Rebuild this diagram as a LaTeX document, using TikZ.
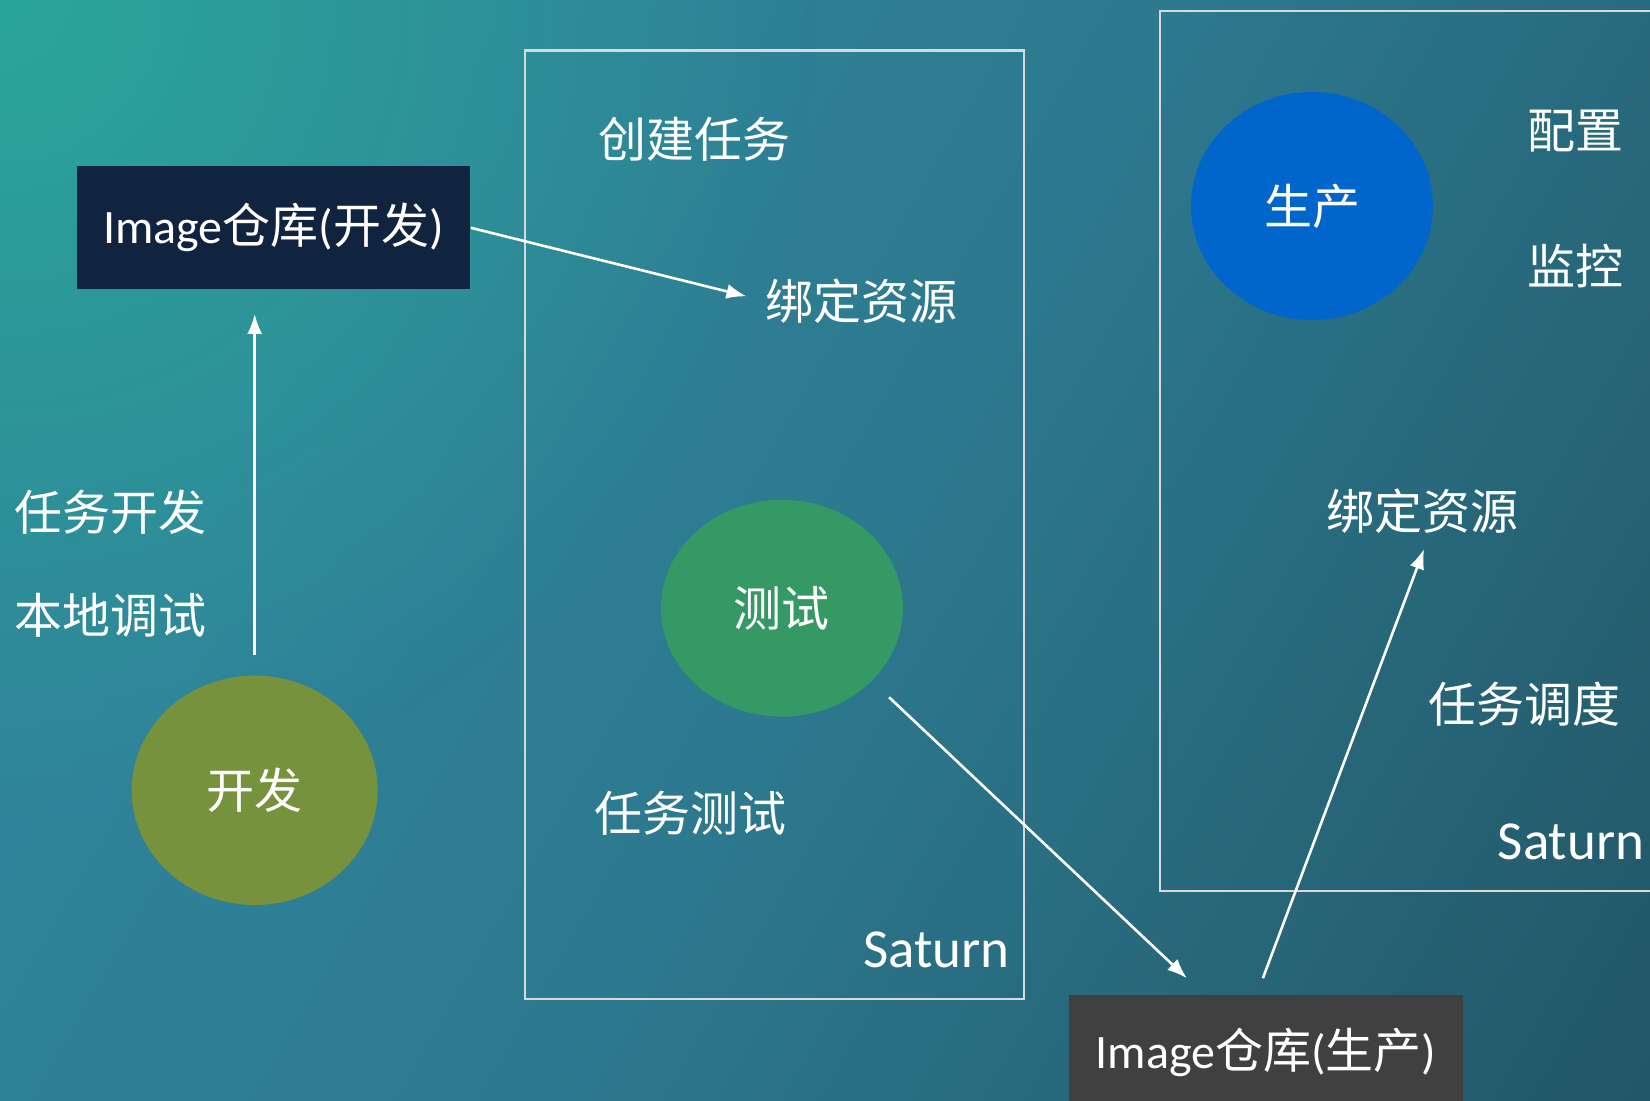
\documentclass[tikz,border=0pt]{standalone}
\usepackage{fontspec}
\setmainfont{Carlito}
\newfontfamily\cjk{Noto Sans CJK SC}
\usetikzlibrary{arrows.meta, fadings, positioning, shapes.geometric}
\definecolor{BgTeal}{HTML}{2AA699}
\definecolor{BgBlue}{HTML}{30839A}
\definecolor{BgMid}{HTML}{2D7A90}
\definecolor{BgDeep}{HTML}{225666}
\definecolor{DevNavy}{HTML}{10233F}
\definecolor{ProdGray}{HTML}{404040}
\definecolor{DevOlive}{HTML}{76923C}
\definecolor{TestGreen}{HTML}{359966}
\definecolor{ProdBlue}{HTML}{0066CC}
\definecolor{FrameGray}{HTML}{D9D9D9}
\pgfdeclarehorizontalshading{backdrop}{100bp}{%
  color(0bp)=(BgBlue); color(30bp)=(BgBlue); color(50bp)=(BgMid);%
  color(85bp)=(BgDeep); color(100bp)=(BgDeep)}
\tikzfading[name=glow, inner color=transparent!0, outer color=transparent!100]
\tikzset{%
  repo/.style={%
    rectangle,%
    minimum width=196.8pt,%
    minimum height=61.5pt,%
    inner sep=0pt,%
    text=white,%
    font={\fontsize{24}{28}\selectfont},%
  },
  stage/.style={%
    ellipse,%
    inner sep=0pt,%
    text=white,%
    font={\cjk\fontsize{24}{28}\selectfont},%
  },
  annotate/.style={%
    inner sep=0pt,%
    text=white,%
    font={\cjk\fontsize{24}{28}\selectfont},%
  },
  saturn_tag/.style={%
    inner sep=0pt,%
    text=white,%
    font={\fontsize{27.5}{32}\selectfont},%
  },
  frame/.style={%
    draw=FrameGray,%
    line width=1.1pt,%
  },
  link/.style={%
    draw=white,%
    line width=1.3pt,%
  },
  arrow/.style={-{Latex[length=10pt, width=7.5pt]}},
}
\begin{document}
\begin{tikzpicture}[x=0.5pt, y=-0.5pt]

    \useasboundingbox (0,0) rectangle (1650,1101);
    \clip (0,0) rectangle (1650,1101);
    \shade [shading=backdrop, shading angle=-30] (0,0) rectangle (1650,1101);
    \fill [BgTeal, path fading=glow] (0,0) circle (820);

    % Saturn frames
    \draw [frame] (525.1,50.5) rectangle (1023.9,998.6);
    \draw [frame] (1160,11) rectangle (1670,891.3);

    % repositories
    \node [repo, fill=DevNavy] (devrepo) at (273.6,227.8)
      {Image{\cjk 仓库}({\cjk 开发})};
    \node [repo, fill=ProdGray, minimum height=57.5pt] (prodrepo) at (1265.9,1052)
      {Image{\cjk 仓库}({\cjk 生产})};

    % stages
    \node [stage, fill=DevOlive, minimum width=123pt, minimum height=114.7pt] (dev) at (254.7,790.3) {开发};
    \node [stage, fill=TestGreen, minimum width=121pt, minimum height=108.4pt] (test) at (781.9,608.2) {测试};
    \node [stage, fill=ProdBlue, minimum width=121pt, minimum height=114pt] (prod) at (1312,206) {生产};

    % left side
    \node [annotate] (devtask) at (110.5,512.5) {任务开发};
    \node [annotate, on grid, below = 51.55pt of devtask] (localdebug) {本地调试};

    % test frame
    \node [annotate] (createtask) at (694.5,138.9) {创建任务};
    \node [annotate] (bindtest) at (861.8,301) {绑定资源};
    \node [annotate] (testtask) at (690.3,813.4) {任务测试};
    \node [saturn_tag] (saturn_test) at (936.5,950.2) {Saturn};

    % prod frame
    \node [annotate] (config) at (1575.3,131.5) {配置};
    \node [annotate, on grid, below = 67.35pt of config] (monitor) {监控};
    \node [annotate] (bindprod) at (1422.7,511.4) {绑定资源};
    \node [annotate] (schedule) at (1524.8,704) {任务调度};
    \node [saturn_tag] (saturn_prod) at (1571.1,841.8) {Saturn};

    \draw [arrow, link, shorten <=10pt, shorten >=12.1pt]
      (dev.north)
      --
      (dev.north |- devrepo.south);
    \draw [arrow, link, shorten >=9.75pt]
      (devrepo.east)
      --
      (bindtest.west);
    \draw [arrow, link, shorten <=11.75pt, shorten >=11.5pt]
      (test.-39)
      --
      ([xshift=-31.1pt]prodrepo.north);
    \draw [arrow, link, shorten <=8.5pt, shorten >=8pt]
      ([xshift=-4.5pt]prodrepo.north)
      --
      ([xshift=3.5pt]bindprod.south);

  \end{tikzpicture}
\end{document}
